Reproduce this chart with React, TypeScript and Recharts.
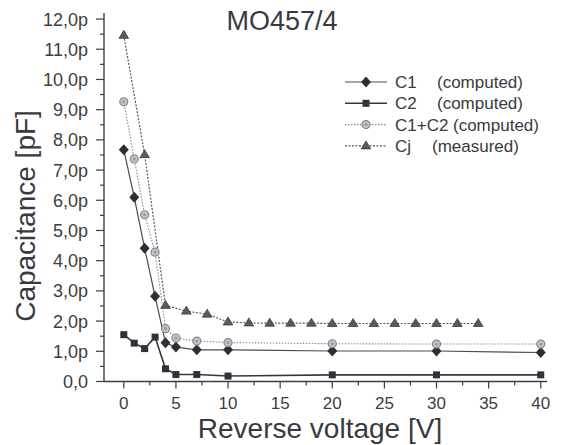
import { LineChart, Line, XAxis, YAxis } from 'recharts';

// computed points (reverse voltage in V, capacitance in pF)
const VOLT_COMPUTED = [0, 1, 2, 3, 4, 5, 7, 10, 20, 30, 40];
const C1_VALUES = [7.67, 6.1, 4.41, 2.82, 1.28, 1.14, 1.05, 1.05, 1.01, 1.01, 0.96];
const C2_VALUES = [1.55, 1.27, 1.09, 1.47, 0.42, 0.23, 0.23, 0.18, 0.22, 0.22, 0.22];
const C1C2_VALUES = [9.26, 7.37, 5.52, 4.28, 1.75, 1.44, 1.34, 1.29, 1.25, 1.24, 1.24];

// measured points
const VOLT_MEASURED = [0, 2, 4, 6, 8, 10, 12, 14, 16, 18, 20, 22, 24, 26, 28, 30, 32, 34];
const CJ_VALUES = [11.46, 7.51, 2.52, 2.33, 2.23, 1.97, 1.94, 1.93, 1.93, 1.93, 1.92, 1.92, 1.92, 1.92, 1.92, 1.92, 1.92, 1.92];

const X_TICKS = [0, 2.5, 5, 7.5, 10, 12.5, 15, 17.5, 20, 22.5, 25, 27.5, 30, 32.5, 35, 37.5, 40];
const Y_TICKS = [0, 0.5, 1, 1.5, 2, 2.5, 3, 3.5, 4, 4.5, 5, 5.5, 6, 6.5, 7, 7.5, 8, 8.5, 9, 9.5, 10, 10.5, 11, 11.5, 12];

const INK = '#3a3d45';
const FONT = '"Liberation Sans", Arial, sans-serif';

const toRows = (xs: number[], ys: number[]) => xs.map((v, i) => ({ v, c: ys[i] }));

type Shape = 'diamond' | 'square' | 'circle' | 'triangle';

const SERIES = [
  { key: 'C1', note: '(computed)', noteX: 437, shape: 'diamond' as Shape, data: toRows(VOLT_COMPUTED, C1_VALUES), stroke: '#4a4d55', width: 1.2, dash: undefined },
  { key: 'C2', note: '(computed)', noteX: 437, shape: 'square' as Shape, data: toRows(VOLT_COMPUTED, C2_VALUES), stroke: '#33363d', width: 1.6, dash: undefined },
  { key: 'C1+C2', note: '(computed)', noteX: 453, shape: 'circle' as Shape, data: toRows(VOLT_COMPUTED, C1C2_VALUES), stroke: '#8a8c92', width: 1.1, dash: '1.5 1.5' },
  { key: 'Cj', note: '(measured)', noteX: 432, shape: 'triangle' as Shape, data: toRows(VOLT_MEASURED, CJ_VALUES), stroke: '#55585f', width: 1.2, dash: '2 1.5' },
];

function marker(shape: Shape, cx: number, cy: number, key?: string | number) {
  if (shape === 'diamond') {
    return <polygon key={key} points={`${cx},${cy - 5.5} ${cx + 5},${cy} ${cx},${cy + 5.5} ${cx - 5},${cy}`} fill="#2c2f36" />;
  }
  if (shape === 'square') {
    return <rect key={key} x={cx - 3.5} y={cy - 3.5} width={7} height={7} fill="#2f3239" />;
  }
  if (shape === 'circle') {
    return (
      <g key={key}>
        <circle cx={cx} cy={cy} r={4} fill="#c4c5c9" stroke="#85878d" strokeWidth={1.2} />
        <circle cx={cx} cy={cy} r={1.6} fill="#9c9ea3" />
      </g>
    );
  }
  return <polygon key={key} points={`${cx},${cy - 5} ${cx + 4.8},${cy + 3} ${cx - 4.8},${cy + 3}`} fill="#575a62" stroke="#3c3f46" strokeWidth={0.8} />;
}

const XTick = ({ x, y, payload }: any) => {
  const major = payload.value % 5 === 0;
  return (
    <g>
      <line x1={x} x2={x} y1={y} y2={y + (major ? 7 : 4)} stroke={INK} strokeWidth={1.2} />
      {major && (
        <text x={x} y={y + 27} textAnchor="middle" fontSize={17} fill="#3d3d40" fontFamily={FONT}>
          {payload.value}
        </text>
      )}
    </g>
  );
};

const YTick = ({ x, y, payload }: any) => {
  const major = payload.value % 1 === 0;
  const label = payload.value === 0 ? '0,0' : `${payload.value.toFixed(1).replace('.', ',')}p`;
  return (
    <g>
      <line x1={x - (major ? 8 : 4)} x2={x} y1={y} y2={y} stroke={INK} strokeWidth={1.2} />
      {major && (
        <text x={x - 16} y={y + 6.5} textAnchor="end" fontSize={18} fill="#3d3d40" fontFamily={FONT}>
          {label}
        </text>
      )}
    </g>
  );
};

export default function App() {
  return (
    <div style={{ position: 'absolute', left: 0, top: 0, width: 561, height: 445, background: '#fff', fontFamily: FONT }}>
      <LineChart width={561} height={445} margin={{ top: 13, right: 14, bottom: 0, left: 0 }}>
        <XAxis
          dataKey="v"
          type="number"
          domain={[-1.9, 40.6]}
          ticks={X_TICKS}
          interval={0}
          tick={<XTick />}
          tickLine={false}
          tickSize={0}
          tickMargin={0}
          height={63.5}
          axisLine={{ stroke: INK, strokeWidth: 1.4 }}
          allowDuplicatedCategory={false}
        />
        <YAxis
          type="number"
          domain={[0, 12.2]}
          ticks={Y_TICKS}
          interval={0}
          tick={<YTick />}
          tickLine={false}
          tickSize={0}
          tickMargin={0}
          width={104}
          axisLine={{ stroke: INK, strokeWidth: 1.4 }}
        />
        {SERIES.map((s) => (
          <Line
            key={s.key}
            data={s.data}
            dataKey="c"
            name={s.key}
            type="linear"
            stroke={s.stroke}
            strokeWidth={s.width}
            strokeDasharray={s.dash}
            isAnimationActive={false}
            dot={(p: any) => marker(s.shape, p.cx, p.cy, `${s.key}-${p.index}`)}
            activeDot={false}
          />
        ))}
      </LineChart>

      <div style={{ position: 'absolute', left: 0, top: 6, width: 564, textAlign: 'center', fontSize: 27, color: '#3a3a3e' }}>
        MO457/4
      </div>

      <svg width={561} height={445} style={{ position: 'absolute', left: 0, top: 0, pointerEvents: 'none' }}>
        {SERIES.map((s, i) => {
          const cy = 82 + i * 21.3;
          return (
            <g key={s.key}>
              <line x1={345} x2={387} y1={cy} y2={cy} stroke={s.stroke} strokeWidth={s.width} strokeDasharray={s.dash} />
              {marker(s.shape, 366, cy)}
              <text x={395} y={cy + 6} fontSize={17} fill="#3a3a3e" fontFamily={FONT}>
                {s.key}
              </text>
              <text x={s.noteX} y={cy + 6} fontSize={17} fill="#3a3a3e" fontFamily={FONT}>
                {s.note}
              </text>
            </g>
          );
        })}
        <text x={320} y={438} textAnchor="middle" fontSize={28} fill="#3a3a3e" fontFamily={FONT}>
          Reverse voltage [V]
        </text>
        <text x={35} y={216} textAnchor="middle" fontSize={28} fill="#3a3a3e" fontFamily={FONT} transform="rotate(-90 35 216)">
          Capacitance [pF]
        </text>
      </svg>
    </div>
  );
}
